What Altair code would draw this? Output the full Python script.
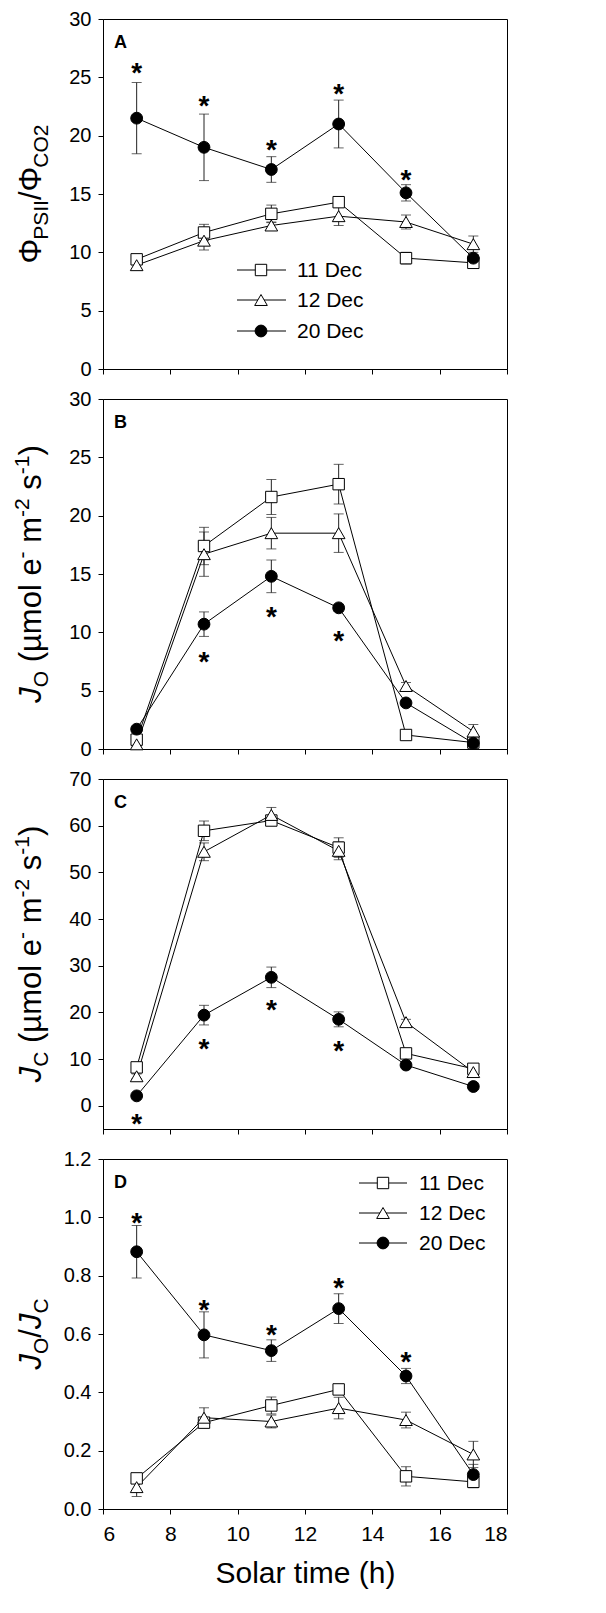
import altair as alt
import pandas as pd

FONT = "Liberation Sans"

hours = [7, 9, 11, 13, 15, 17]
series = ["11 Dec", "12 Dec", "20 Dec"]

# Panel A: PhiPSII / PhiCO2
a_11 = [9.4, 11.7, 13.3, 14.3, 9.5, 9.1]
a_11_err = [0.3, 0.7, 0.75, 0.4, 0.5, 0.3]
a_12 = [8.9, 11.0, 12.3, 13.1, 12.6, 10.7]
a_12_err = [0.3, 0.8, 0.3, 0.8, 0.6, 0.7]
a_20 = [21.5, 19.0, 17.1, 21.0, 15.1, 9.5]
a_20_err = [3.05, 2.85, 1.1, 2.05, 0.7, 0.3]
a_star_x = [7, 9, 11, 13, 15]
a_star_y = [25.9, 23.1, 19.3, 24.1, 16.7]

# Panel B: JO
b_11 = [0.8, 17.4, 21.6, 22.7, 1.2, 0.55]
b_11_err = [0.2, 1.6, 1.5, 1.7, 0.2, 0.1]
b_12 = [0.4, 16.7, 18.5, 18.5, 5.4, 1.5]
b_12_err = [0.2, 1.9, 1.35, 1.65, 0.3, 0.6]
b_20 = [1.7, 10.7, 14.8, 12.1, 3.95, 0.5]
b_20_err = [0.2, 1.05, 1.4, 0.3, 0.3, 0.1]
b_star_x = [9, 11, 13]
b_star_y = [8.0, 11.8, 9.8]

# Panel C: JC
c_11 = [8.2, 58.9, 61.1, 55.3, 11.2, 7.9]
c_11_err = [0.5, 2.1, 0.8, 2.1, 0.5, 0.5]
c_12 = [6.3, 54.4, 62.3, 54.6, 17.9, 7.2]
c_12_err = [0.5, 1.9, 1.6, 1.9, 0.6, 0.5]
c_20 = [2.1, 19.4, 27.5, 18.5, 8.7, 4.1]
c_20_err = [0.3, 2.1, 2.2, 1.6, 0.4, 0.4]
c_star_x = [7, 9, 11, 13]
c_star_y = [-2.7, 13.4, 21.8, 13.1]

# Panel D: JO/JC
d_11 = [0.105, 0.296, 0.355, 0.41, 0.112, 0.093]
d_11_err = [0.012, 0.012, 0.029, 0.012, 0.033, 0.02]
d_12 = [0.075, 0.313, 0.300, 0.346, 0.305, 0.187]
d_12_err = [0.032, 0.034, 0.022, 0.037, 0.027, 0.045]
d_20 = [0.882, 0.597, 0.543, 0.687, 0.456, 0.118]
d_20_err = [0.09, 0.079, 0.037, 0.051, 0.026, 0.035]
d_star_x = [7, 9, 11, 13, 15]
d_star_y = [1.0, 0.702, 0.616, 0.777, 0.525]

x_ticks = [6, 8, 10, 12, 14, 16, 18]

W_PLOT = 404
H_PLOT = 350

SHAPES = {"11 Dec": ("square", "white", 130),
          "12 Dec": ("triangle-up", "white", 160),
          "20 Dec": ("circle", "black", 140)}

# Arial / Liberation Sans advance widths (em)
CW = {' ': 0.278, '(': 0.333, ')': 0.333, '-': 0.333, '/': 0.278, '1': 0.556,
      '2': 0.556, 'C': 0.722, 'I': 0.278, 'J': 0.5, 'O': 0.778, 'P': 0.667,
      'S': 0.667, 'e': 0.556, 'l': 0.222, 'm': 0.833, 'o': 0.556, 's': 0.5,
      'µ': 0.576, 'Φ': 0.764}

ONE = alt.Data(values=[{}])


def long_df(vals, errs):
    rows = []
    for s, v, e in zip(series, vals, errs):
        for h, yv, ev in zip(hours, v, e):
            rows.append({"hour": h, "y": yv, "lo": yv - ev, "hi": yv + ev, "series": s})
    return pd.DataFrame(rows)


def title_layers(segs, F=31, fs_small=21, base_x=-62):
    pieces = []
    total = 0.0
    for txt, kind in segs:
        fs = fs_small if kind in ("sub", "sup") else F
        lead = 0.0
        if txt.startswith(" "):
            lead = CW[' '] * fs
            txt = txt[1:]
        w = sum(CW[c] for c in txt) * fs
        pieces.append((txt, kind, fs, lead, w))
        total += lead + w
    y = H_PLOT / 2 + total / 2
    layers = []
    for txt, kind, fs, lead, w in pieces:
        y -= lead
        shift = {"sub": 7, "sup": -12}.get(kind, 0)
        layers.append(
            alt.Chart(ONE).mark_text(
                text=txt, angle=270, align="left", baseline="alphabetic",
                fontSize=fs, font=FONT, color="black",
                fontStyle="italic" if kind == "i" else "normal",
            ).encode(x=alt.value(base_x + shift), y=alt.value(y))
        )
        y -= w
    return layers


def legend_layers(x0, x1, xm, xt, ys):
    layers = []
    for s, ry in zip(series, ys):
        shape, fill, size = SHAPES[s]
        layers.append(alt.Chart(ONE).mark_rule(color="black", strokeWidth=1).encode(
            x=alt.value(x0), x2=alt.value(x1), y=alt.value(ry)))
        layers.append(alt.Chart(ONE).mark_point(
            shape=shape, filled=True, fill=fill, stroke="black", strokeWidth=1,
            size=size, opacity=1).encode(x=alt.value(xm), y=alt.value(ry)))
        layers.append(alt.Chart(ONE).mark_text(
            text=s, align="left", baseline="middle", fontSize=21, font=FONT,
            color="black").encode(x=alt.value(xt), y=alt.value(ry + 1)))
    return layers


def panel(vals, errs, sx, sy, dom, yvals, fmt, letter, segs, show_x, legend=None):
    df = long_df(vals, errs)
    stars = pd.DataFrame({"hour": sx, "sy": sy})

    def X():
        return alt.X("hour:Q", scale=alt.Scale(domain=[6, 18], nice=False),
                     axis=alt.Axis(values=x_ticks, labels=show_x,
                                   title="Solar time (h)" if show_x else None,
                                   labelPadding=9, titlePadding=14, labelFontSize=21,
                                   titleFontSize=30, titleFont=FONT,
                                   titleFontWeight="normal", titleColor="black"))

    def Y(field):
        return alt.Y(f"{field}:Q", scale=alt.Scale(domain=dom, nice=False, zero=False),
                     axis=alt.Axis(values=yvals, format=fmt, title=None, labelPadding=7))

    base = alt.Chart(df)
    layers = [
        base.mark_line(color="black", strokeWidth=1).encode(x=X(), y=Y("y"), detail="series:N"),
        base.mark_rule(color="#222", strokeWidth=1).encode(x=X(), y=Y("lo"), y2="hi:Q"),
        base.mark_tick(orient="horizontal", size=10, thickness=1, color="#222").encode(x=X(), y=Y("hi")),
        base.mark_tick(orient="horizontal", size=10, thickness=1, color="#222").encode(x=X(), y=Y("lo")),
    ]
    for s in series:
        shape, fill, size = SHAPES[s]
        layers.append(
            alt.Chart(df[df.series == s]).mark_point(
                shape=shape, filled=True, fill=fill, stroke="black", strokeWidth=1,
                size=size, opacity=1).encode(x=X(), y=Y("y")))
    layers.append(
        alt.Chart(stars).mark_text(text="*", fontSize=28, fontWeight="bold", font=FONT,
                                   baseline="alphabetic", dy=15, color="black")
        .encode(x=X(), y=Y("sy")))
    layers.append(
        alt.Chart(ONE).mark_text(text=letter, fontSize=18, fontWeight="bold", font=FONT,
                                 align="left", baseline="alphabetic", color="black")
        .encode(x=alt.value(11), y=alt.value(29)))
    layers += title_layers(segs)
    if legend is not None:
        layers += legend_layers(*legend)
    return alt.layer(*layers).properties(width=W_PLOT, height=H_PLOT)


pA = panel([a_11, a_12, a_20], [a_11_err, a_12_err, a_20_err], a_star_x, a_star_y,
           [0, 30], [0, 5, 10, 15, 20, 25, 30], "d", "A",
           [("Φ", "n"), ("PSII", "sub"), ("/Φ", "n"), ("CO2", "sub")], False,
           legend=(134, 183, 158, 194, [251, 281, 312]))
pB = panel([b_11, b_12, b_20], [b_11_err, b_12_err, b_20_err], b_star_x, b_star_y,
           [0, 30], [0, 5, 10, 15, 20, 25, 30], "d", "B",
           [("J", "i"), ("O", "sub"), (" (µmol e", "n"), ("-", "sup"), (" m", "n"),
            ("-2", "sup"), (" s", "n"), ("-1", "sup"), (")", "n")], False)
pC = panel([c_11, c_12, c_20], [c_11_err, c_12_err, c_20_err], c_star_x, c_star_y,
           [-5, 70], [0, 10, 20, 30, 40, 50, 60, 70], "d", "C",
           [("J", "i"), ("C", "sub"), (" (µmol e", "n"), ("-", "sup"), (" m", "n"),
            ("-2", "sup"), (" s", "n"), ("-1", "sup"), (")", "n")], False)
pD = panel([d_11, d_12, d_20], [d_11_err, d_12_err, d_20_err], d_star_x, d_star_y,
           [0, 1.2], [0, 0.2, 0.4, 0.6, 0.8, 1.0, 1.2], ".1f", "D",
           [("J", "i"), ("O", "sub"), ("/", "n"), ("J", "i"), ("C", "sub")], True,
           legend=(256, 304, 280, 316, [24, 54, 84]))

chart = alt.vconcat(pA, pB, pC, pD, spacing=30).properties(
    bounds="flush",
    background="white",
    padding={"left": 3, "top": 0, "right": 5, "bottom": 5},
).configure_view(
    stroke="black", strokeWidth=1
).configure_axis(
    domainColor="black", domainWidth=1, tickColor="black", tickWidth=1, tickSize=5,
    labelFont=FONT, labelFontSize=20, labelColor="black", grid=False,
)

chart.save("out.html", embed_options={"renderer": "svg", "actions": False})
